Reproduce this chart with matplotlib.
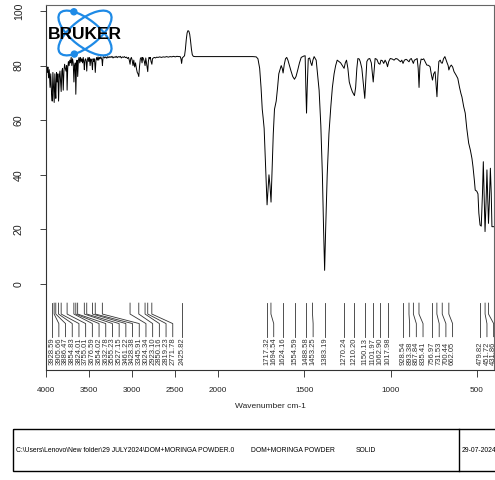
import numpy as np
import matplotlib
matplotlib.use("Agg")
import matplotlib.pyplot as plt
from matplotlib import font_manager
from matplotlib.patches import Ellipse, Circle, Rectangle

# spectrum (cm-1, %T)
wavenumber = [
    4000, 3992, 3985, 3978, 3970, 3962, 3953, 3945, 3936, 3928, 3920, 3912, 3905, 3897, 3890, 3886,
    3878, 3870, 3862, 3854, 3846, 3838, 3830, 3824, 3816, 3808, 3800, 3792, 3784, 3776, 3768, 3760,
    3755, 3748, 3740, 3732, 3724, 3716, 3708, 3700, 3692, 3684, 3676, 3668, 3660, 3654, 3646, 3640,
    3632, 3624, 3616, 3608, 3600, 3592, 3584, 3576, 3568, 3560, 3555, 3548, 3540, 3533, 3527, 3520,
    3512, 3504, 3496, 3488, 3480, 3472, 3466, 3461, 3454, 3446, 3440, 3434, 3428, 3420, 3412, 3404,
    3396, 3388, 3380, 3372, 3364, 3356, 3350, 3345, 3338, 3330, 3318, 3306, 3294, 3282, 3270, 3258,
    3246, 3234, 3222, 3210, 3198, 3186, 3174, 3162, 3150, 3138, 3126, 3114, 3102, 3090, 3078, 3066,
    3054, 3042, 3032, 3024, 3017, 3009, 3000, 2990, 2981, 2971, 2961, 2951, 2941, 2932, 2923, 2915,
    2905, 2895, 2885, 2878, 2869, 2859, 2850, 2842, 2834, 2826, 2819, 2812, 2804, 2797, 2789, 2781,
    2771, 2764, 2754, 2742, 2730, 2715, 2700, 2680, 2660, 2640, 2620, 2600, 2580, 2560, 2540, 2520,
    2500, 2480, 2460, 2442, 2433, 2426, 2418, 2405, 2392, 2382, 2372, 2362, 2352, 2342, 2332, 2322,
    2312, 2302, 2290, 2270, 2200, 2100, 2000, 1900, 1800, 1780, 1770, 1760, 1752, 1745, 1740, 1734,
    1726, 1717, 1712, 1706, 1700, 1694, 1688, 1681, 1674, 1664, 1656, 1649, 1642, 1635, 1629, 1624,
    1617, 1610, 1603, 1596, 1587, 1578, 1568, 1558, 1549, 1539, 1529, 1519, 1504, 1496, 1492, 1488,
    1484, 1478, 1470, 1463, 1457, 1451, 1444, 1432, 1424, 1415, 1405, 1396, 1389, 1383, 1377, 1368,
    1358, 1347, 1338, 1328, 1319, 1310, 1300, 1290, 1280, 1270, 1263, 1256, 1248, 1240, 1231, 1222,
    1210, 1203, 1196, 1190, 1182, 1176, 1167, 1159, 1150, 1144, 1138, 1130, 1121, 1112, 1106, 1101,
    1096, 1090, 1080, 1070, 1062, 1056, 1048, 1040, 1032, 1024, 1018, 1011, 1002, 990, 980, 970,
    960, 950, 942, 935, 928, 920, 910, 903, 897, 893, 887, 880, 873, 868, 862, 855,
    846, 840, 835, 830, 823, 815, 808, 800, 790, 780, 771, 763, 757, 750, 742, 736,
    731, 726, 720, 712, 706, 700, 693, 685, 678, 671, 666, 662, 656, 648, 640, 632,
    620, 610, 600, 592, 586, 576, 567, 558, 547, 537, 528, 522, 514, 509, 500, 493,
    488, 481, 474, 467, 462, 457, 452, 446, 441, 437, 432, 427, 421, 416, 412, 405, 400,
]
transmittance = [
    80.2, 79.5, 77.5, 79.5, 75.5, 78.5, 72, 77, 70, 67, 77.5, 72, 66.5, 77, 70, 68,
    77.5, 74, 77, 67, 76, 78, 74, 70.5, 78, 79, 71, 78, 80.5, 79, 78, 80,
    71, 79, 81.5, 80, 82, 81, 83, 80, 82.5, 81, 74, 80, 81, 69.5, 80, 82,
    76, 82, 83, 81, 83, 81.5, 82.5, 81, 83, 81, 78.5, 82, 82.5, 81.5, 78, 82,
    83, 81.5, 83, 80, 82.5, 82, 80.5, 78.5, 82.5, 81.5, 82.5, 81, 77.5, 82, 83, 82,
    83.2, 82, 83, 82.5, 83.2, 82.6, 82, 80, 83, 83.3, 82.8, 83.2, 82.7, 83.3, 82.9, 83.3,
    83, 83.4, 82.8, 83.2, 83, 83.4, 82.9, 83.3, 83.1, 83.4, 82.8, 83.2, 83, 83.3, 82.9, 83.1,
    82.6, 83, 81.8, 80.5, 82.5, 83, 82, 80, 82, 79.5, 81, 79, 77.5, 77, 76, 79.5,
    82.5, 83, 81, 83, 82.5, 81.5, 80, 82.8, 81, 79, 77.8, 81.5, 83, 82.5, 83, 81.5,
    80.5, 82.5, 82.8, 83, 82.8, 83.1, 83, 83.2, 83, 83.2, 83.1, 83.3, 83.1, 83.3, 83.2, 83.4,
    83.2, 83.4, 83.3, 83.3, 82.4, 80.8, 82.8, 83.2, 83.6, 86, 89.5, 92, 92.8, 92.6, 91.5, 89,
    86, 84, 83.4, 83.3, 83.3, 83.3, 83.3, 83.3, 83.3, 83.2, 82.5, 79, 72, 64, 61, 57,
    44, 29, 34, 40, 36, 30, 42, 55, 64, 67, 72, 77, 78.5, 80, 79, 77.3,
    80.5, 82.5, 83, 82, 80, 78, 76, 75, 76, 78.4, 81, 83, 83.5, 83.6, 72, 62.6,
    72, 82.5, 82.8, 81, 80, 82, 83.3, 82, 77, 71, 58, 40, 20, 5, 20, 40,
    55, 65, 72, 77, 80, 82, 81.5, 81, 80, 79, 81, 82, 79, 74, 72, 70.4,
    69, 72, 79, 82.6, 82.4, 81.4, 79, 74, 68, 75, 81.5, 82.4, 82.6, 81, 77, 74,
    78, 82.6, 82.3, 80.8, 80.5, 82, 81.8, 80.8, 82, 81, 79.6, 81.5, 82.6, 82.4, 82, 82.6,
    82.4, 81.8, 81.4, 82, 80.8, 82, 82.3, 82, 81.6, 81.4, 82.3, 82.6, 81.6, 80.8, 82, 82.2,
    82.6, 79, 72, 80, 82.4, 82.2, 82.5, 81.5, 80.2, 80.1, 79.6, 76.5, 74.7, 77, 77.8, 73,
    68.6, 76, 81.5, 82, 81, 80.9, 82.5, 83.3, 82, 80.8, 80, 78.4, 79.5, 80.2, 79.5, 77.8,
    76.5, 75.3, 72, 69.8, 68.5, 65, 62.6, 57, 51.6, 49, 46, 43, 38, 34.4, 34, 33,
    26, 21.6, 21.2, 33, 44.8, 32, 19.2, 30, 41.8, 33, 22.2, 30, 42.4, 33, 21, 21, 21,
]

peaks = [
    3928.59, 3905.66, 3886.47, 3854.83, 3824.01, 3755.01, 3676.59, 3654.02, 3632.78, 3555.23,
    3527.15, 3461.22, 3428.38, 3345.91, 3024.34, 2923.10, 2850.16, 2819.23, 2771.78, 2425.82,
    1717.32, 1694.54, 1624.16, 1554.59, 1488.58, 1453.25, 1383.19, 1270.24, 1210.20, 1150.13,
    1101.97, 1062.90, 1017.98, 928.54, 893.38, 867.84, 835.41, 756.97, 731.53, 700.44,
    662.05, 479.82, 451.72, 431.86,
]

x_ticks = [4000, 3500, 3000, 2500, 2000, 1500, 1000, 500]
y_ticks = [0, 20, 40, 60, 80, 100]

file_name = "C:\\Users\\Lenovo\\New folder\\29 JULY2024\\DOM+MORINGA POWDER.0"
sample_name = "DOM+MORINGA POWDER"
sample_form = "SOLID"
date = "29-07-2024"


# OPUS style axis: the part above 2000 cm-1 is squeezed to half
def fwd(x):
    x = np.asarray(x, dtype=float)
    return np.where(x > 2000, 2000 + (x - 2000) / 2, x)


def inv(u):
    u = np.asarray(u, dtype=float)
    return np.where(u > 2000, 2000 + (u - 2000) * 2, u)


names = {f.name for f in font_manager.fontManager.ttflist}
if "Liberation Sans Narrow" in names:
    narrow, nscale = "Liberation Sans Narrow", 1.0
else:
    narrow, nscale = "Liberation Sans", 0.82
plt.rcParams["font.family"] = ["Liberation Sans", "DejaVu Sans"]

W, H = 495, 480
fig = plt.figure(figsize=(W / 100, H / 100), dpi=100)
ax = fig.add_axes([46 / W, 1 - 370 / H, (494 - 46) / W, (370 - 5) / H])

ax.plot(wavenumber, transmittance, color="black", lw=0.7)
ax.set_xscale("function", functions=(fwd, inv))
ax.set_xlim(4000, 400)
ax.set_ylim(-31.5, 102.2)

ax.set_xticks(x_ticks)
ax.set_xticklabels([str(t) for t in x_ticks], family=narrow, fontsize=7.2 * nscale)
ax.set_yticks(y_ticks)
ax.set_yticklabels([str(t) for t in y_ticks], rotation=90, va="center", fontsize=7.6)
ax.minorticks_off()
ax.tick_params(axis="x", direction="out", length=5, width=0.6, pad=7, colors="#222")
ax.tick_params(axis="y", direction="out", length=4, width=0.6, pad=12, colors="#222")
ax.set_xlabel("Wavenumber cm-1", family=narrow, fontsize=7.3 * nscale, labelpad=7, color="#222")

for side in ["left", "bottom"]:
    ax.spines[side].set_color("#333")
    ax.spines[side].set_linewidth(0.8)
for side in ["top", "right"]:
    ax.spines[side].set_color("#666")
    ax.spines[side].set_linewidth(0.8)

# peak labels, pushed apart so they don't overlap
gap = 6.7
peak_px = ax.transData.transform(np.column_stack([peaks, np.zeros(len(peaks))]))[:, 0]
label_px = []
for p in peak_px:
    if label_px and p < label_px[-1] + gap:
        label_px.append(label_px[-1] + gap)
    else:
        label_px.append(p)
label_wn = ax.transData.inverted().transform(
    np.column_stack([label_px, np.zeros(len(peaks))]))[:, 0]

y_top, y_k1, y_k2, y_end, y_txt = -7, -11, -14.5, -19.3, -29.8
for pk, lw_ in zip(peaks, label_wn):
    ax.plot([pk, pk, lw_, lw_], [y_top, y_k1, y_k2, y_end], color="#333", lw=0.6)
    ax.text(lw_, y_txt, "%.2f" % pk, rotation=90, ha="center", va="bottom",
            fontsize=5.5, color="#333")

# overlay in pixel coordinates for the logo and the footer box
ov = fig.add_axes([0, 0, 1, 1], zorder=5)
ov.set_xlim(0, W)
ov.set_ylim(H, 0)
ov.axis("off")

blue = "#1e8ae6"
cx, cy = 85, 33
a, b = 32, 13.5
for ang in [38, -38]:
    ov.add_patch(Ellipse((cx, cy), 2 * a, 2 * b, angle=ang, fill=False, ec=blue, lw=1.6))
for ang, t in [(38, np.radians(227)), (-38, np.radians(132))]:
    r = np.radians(ang)
    px = cx + a * np.cos(t) * np.cos(r) - b * np.sin(t) * np.sin(r)
    py = cy + a * np.cos(t) * np.sin(r) + b * np.sin(t) * np.cos(r)
    ov.add_patch(Circle((px, py), 3, color=blue))
ov.text(85, 34.5, "BRUKER", ha="center", va="center", fontsize=12.5, fontweight="bold",
        color="black")

ov.add_patch(Rectangle((13, 429), 600, 42, fill=False, ec="black", lw=1.0))
ov.plot([459, 459], [429, 471], color="black", lw=1.0)
fs = 5.9 * nscale
ov.text(16, 451, file_name, ha="left", va="center", fontsize=fs, family=narrow)
ov.text(251, 451, sample_name, ha="left", va="center", fontsize=fs, family=narrow)
ov.text(356, 451, sample_form, ha="left", va="center", fontsize=fs, family=narrow)
ov.text(462, 451, date, ha="left", va="center", fontsize=fs, family=narrow)

fig.savefig("out.png", dpi=100)
